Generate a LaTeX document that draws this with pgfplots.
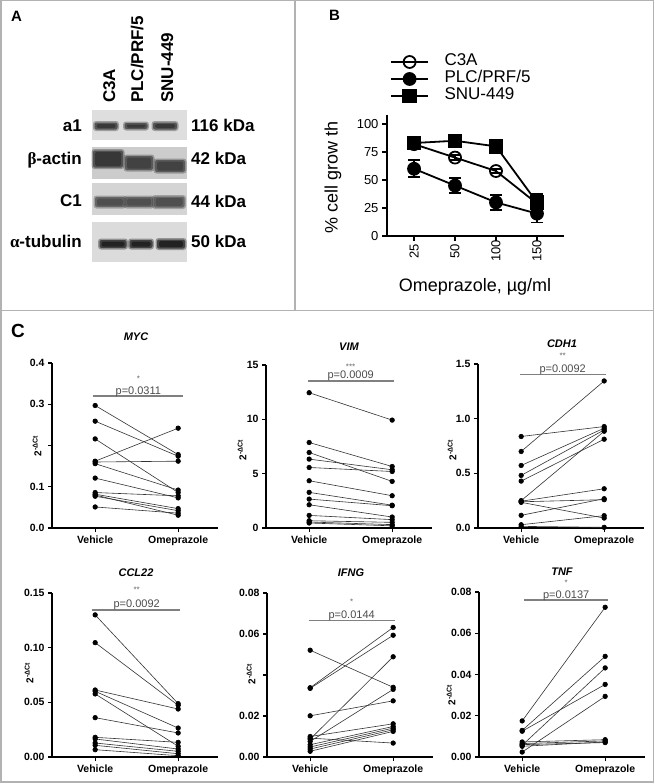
\documentclass[border=0pt]{standalone}
\usepackage{pgfplots}
\pgfplotsset{compat=1.18}
\usepackage{fontspec}
\setmainfont{Liberation Sans}
\newfontfamily\greek{Liberation Serif}
\newcommand\fs[1]{\fontsize{#1}{#1}\selectfont}
\newcommand\band[5]{%
 \fill[#5, opacity=0.35, rounded corners=3pt] ({#1-#3/2-1.5},{-#2-#4/2-1.5}) rectangle ({#1+#3/2+1.5},{-#2+#4/2+1.5});
 \fill[#5, opacity=0.6, rounded corners=2pt] ({#1-#3/2},{-#2-#4/2}) rectangle ({#1+#3/2},{-#2+#4/2});
 \fill[#5, opacity=0.6, rounded corners=1.5pt] ({#1-#3/2+2},{-#2-#4/2+1.5}) rectangle ({#1+#3/2-2},{-#2+#4/2-1.5});
}
\newcommand\pr[2]{\addplot[black!80, line width=0.6pt, mark=*, mark size=2.3pt, mark options={fill=black, draw=black}] coordinates {(0,#1) (1,#2)};}
\pgfplotsset{
  cax/.style={
    anchor=south west, scale only axis, clip=false, width=166pt,
    axis lines=left, axis line style={line width=1.3pt,-},
    xmin=-0.52, xmax=1.48, ymin=0,
    xtick={0,1}, xticklabels={Vehicle,Omeprazole},
    tick align=outside, major tick length=4pt, tick style={line width=1.3pt,black},
    ticklabel style={font=\fs{10.5}\bfseries},
    scaled y ticks=false,
    /pgf/number format/assume math mode=true,
  },
}
\tikzset{
  pline/.style={black!50, line width=1.3pt},
  ptext/.style={font=\fs{11}, text=black!70, anchor=base, inner sep=0pt, yshift=2pt},
  pstar/.style={font=\fs{8}, text=black!60, inner sep=0pt},
}
\begin{document}
\begin{tikzpicture}[x=1pt,y=1pt]
\useasboundingbox (0,0) rectangle (654,-784);
% frames
\draw[black!30, line width=1.5pt] (0.75,-0.75) rectangle (653.25,-782);
\draw[black!30, line width=1.5pt] (295,-0.75) -- (295,-310.5);
\draw[black!30, line width=1.5pt] (0.75,-310.5) -- (653.25,-310.5);

% ---------------- Panel A ----------------
\node[anchor=base west, inner sep=0pt, font=\fs{15}\bfseries] at (11,-22) {A};
\node[rotate=90, anchor=base west, inner sep=0pt, font=\fs{17}\bfseries] at (115,-103) {C3A};
\node[rotate=90, anchor=base west, inner sep=0pt, font=\fs{17}\bfseries] at (143,-103) {PLC/PRF/5};
\node[rotate=90, anchor=base west, inner sep=0pt, font=\fs{17}\bfseries] at (173,-103) {SNU-449};
\fill[black!13] (92,-110) rectangle (187,-140);
\fill[black!20] (92,-147) rectangle (187,-179);
\fill[black!17] (92,-183) rectangle (187,-215);
\fill[black!14] (92,-222) rectangle (187,-262);
\band{106}{126}{23}{7}{black!85}
\band{136}{126}{23}{6}{black!85}
\band{165}{126}{24}{7}{black!85}
\band{108}{159}{30}{17}{black!85}
\band{139}{163}{28}{14}{black!80}
\band{170}{166}{30}{12}{black!80}
\band{110}{202}{30}{10}{black!75}
\band{139}{202}{28}{10}{black!75}
\band{169}{202}{31}{11}{black!75}
\band{113}{244}{27}{8}{black!95}
\band{141}{244}{23}{8}{black!95}
\band{171}{244}{28}{9}{black!95}
\node[anchor=base east, inner sep=0pt, font=\fs{17}\bfseries] at (82,-131.5) {a1};
\node[anchor=base east, inner sep=0pt, font=\fs{17}\bfseries] at (82,-164) {{\greek β}-actin};
\node[anchor=base east, inner sep=0pt, font=\fs{17}\bfseries] at (82,-206) {C1};
\node[anchor=base east, inner sep=0pt, font=\fs{17}\bfseries] at (82,-247) {{\greek α}-tubulin};
\node[anchor=base west, inner sep=0pt, font=\fs{17}\bfseries] at (191,-131.5) {116 kDa};
\node[anchor=base west, inner sep=0pt, font=\fs{17}\bfseries] at (191,-164) {42 kDa};
\node[anchor=base west, inner sep=0pt, font=\fs{17}\bfseries] at (191,-207) {44 kDa};
\node[anchor=base west, inner sep=0pt, font=\fs{17}\bfseries] at (191,-247) {50 kDa};

% ---------------- Panel B ----------------
\node[anchor=base west, inner sep=0pt, font=\fs{15}\bfseries] at (329,-21) {B};
\begin{axis}[at={(387pt,-236pt)}, anchor=south west, scale only axis,
  width=177pt, height=121pt, clip=false,
  axis lines=left, axis line style={line width=1.6pt,-},
  xmin=-0.66, xmax=3.66, ymin=0, ymax=108,
  xtick={0,1,2,3}, xticklabels={25,50,100,150},
  ytick={0,25,50,75,100}, yticklabels={0,25,50,75,100},
  tick align=outside, major tick length=5pt, tick style={line width=1.6pt,black},
  ticklabel style={font=\fs{13}},
  /pgf/number format/assume math mode=true,
  xticklabel style={rotate=90, anchor=center, xshift=-10pt},
  ylabel={\% cell grow th}, xlabel={Omeprazole, µg/ml},
  every axis y label/.style={at={(rel axis cs:-0.305,0.48)}, rotate=90, anchor=center, font=\fs{18}},
  every axis x label/.style={at={(rel axis cs:0.497,-0.42)}, anchor=center, font=\fs{18}},
  legend style={draw=none, fill=none, at={(rel axis cs:0.017,1.51)}, anchor=north west,
    font=\fs{17}, row sep=0pt, inner sep=0pt,
    nodes={inner sep=1.5pt, text height=11pt, text depth=3pt},
    /tikz/every odd column/.append style={column sep=14pt}},
  legend cell align=left,
  legend image code/.code={\draw[#1, mark repeat=2, mark phase=2] plot coordinates {(0pt,0pt) (18.5pt,0pt) (37pt,0pt)};},
  every axis plot/.append style={black, line width=1.8pt},
  error bars/y dir=both, error bars/y explicit,
  error bars/error bar style={line width=1.8pt},
  error bars/error mark options={rotate=90, mark size=6pt, line width=1.8pt},
]
\addplot[mark=o, mark size=6pt, mark options={fill=white, line width=1.8pt}] coordinates {(0,82) +- (0,2) (1,70) +- (0,2) (2,58) +- (0,2) (3,29) +- (0,3)};
\addlegendentry{C3A}
\addplot[mark=*, mark size=6pt] coordinates {(0,60) +- (0,7.5) (1,45) +- (0,6.5) (2,30) +- (0,6.5) (3,20) +- (0,8)};
\addlegendentry{PLC/PRF/5}
\addplot[mark=square*, mark size=6.3pt] coordinates {(0,83) +- (0,5.5) (1,85) +- (0,4) (2,80) +- (0,3) (3,30) +- (0,7.5)};
\addlegendentry{SNU-449}
\end{axis}

% ---------------- Panel C ----------------
\node[anchor=base west, inner sep=0pt, font=\fs{19}\bfseries] at (11,-337) {C};

% MYC
\begin{axis}[cax, at={(52pt,-528pt)}, height=165pt, ymax=0.4,
  ytick={0,0.1,0.2,0.3,0.4}, yticklabels={0.0,0.1,,0.3,0.4}]
\pr{0.297}{0.178}
\pr{0.259}{0.174}
\pr{0.216}{0.086}
\pr{0.162}{0.242}
\pr{0.160}{0.162}
\pr{0.156}{0.092}
\pr{0.121}{0.073}
\pr{0.086}{0.078}
\pr{0.082}{0.047}
\pr{0.077}{0.042}
\pr{0.051}{0.036}
\pr{0.080}{0.031}
\draw[pline] (axis cs:-0.03,0.32) -- (axis cs:1.06,0.32);
\node[ptext] at (axis cs:0.52,0.32) {p=0.0311};
\node[pstar, yshift=17pt] at (axis cs:0.52,0.32) {*};
\end{axis}
\node[font=\fs{11}\bfseries\itshape] at (136,-337) {MYC};
\node[rotate=90, font=\fs{10}\bfseries] at (37,-446) {2\textsuperscript{-ΔCt}};

% VIM
\begin{axis}[cax, at={(266pt,-528pt)}, height=163pt, ymax=15,
  ytick={0,5,10,15}, yticklabels={0,5,10,15}]
\pr{12.45}{9.93}
\pr{7.87}{5.66}
\pr{6.95}{4.29}
\pr{6.34}{5.36}
\pr{5.57}{5.20}
\pr{4.35}{2.97}
\pr{3.28}{2.10}
\pr{2.66}{2.05}
\pr{2.14}{1.01}
\pr{1.16}{0.77}
\pr{0.67}{0.52}
\pr{0.55}{0.31}
\pr{0.46}{0.20}
\draw[pline] (axis cs:-0.01,13.53) -- (axis cs:1.02,13.53);
\node[ptext] at (axis cs:0.5,13.53) {p=0.0009};
\node[pstar, yshift=14pt] at (axis cs:0.5,13.53) {***};
\end{axis}
\node[font=\fs{11}\bfseries\itshape] at (349,-347) {VIM};
\node[rotate=90, font=\fs{10}\bfseries] at (242,-450) {2\textsuperscript{-ΔCt}};

% CDH1
\begin{axis}[cax, at={(478pt,-528pt)}, height=164pt, ymax=1.5,
  ytick={0,0.5,1,1.5}, yticklabels={0.0,0.5,1.0,1.5}]
\pr{0.837}{0.928}
\pr{0.700}{1.345}
\pr{0.572}{0.913}
\pr{0.481}{0.897}
\pr{0.429}{0.812}
\pr{0.250}{0.885}
\pr{0.245}{0.359}
\pr{0.240}{0.259}
\pr{0.235}{0.091}
\pr{0.116}{0.268}
\pr{0.030}{0.113}
\pr{0.015}{0.006}
\draw[pline] (axis cs:-0.01,1.406) -- (axis cs:1.02,1.406);
\node[ptext] at (axis cs:0.5,1.406) {p=0.0092};
\node[pstar, yshift=19pt] at (axis cs:0.5,1.406) {**};
\end{axis}
\node[font=\fs{11}\bfseries\itshape] at (562,-344) {CDH1};
\node[rotate=90, font=\fs{10}\bfseries] at (452,-450) {2\textsuperscript{-ΔCt}};

% CCL22
\begin{axis}[cax, at={(52pt,-757pt)}, height=164pt, ymax=0.15,
  ytick={0,0.05,0.1,0.15}, yticklabels={0.00,0.05,0.10,0.15}]
\pr{0.130}{0.0488}
\pr{0.1046}{0.0473}
\pr{0.0613}{0.0439}
\pr{0.0601}{0.0265}
\pr{0.0577}{0.0098}
\pr{0.036}{0.022}
\pr{0.018}{0.0134}
\pr{0.0165}{0.0073}
\pr{0.0128}{0.0052}
\pr{0.0107}{0.003}
\pr{0.0067}{0.0012}
\draw[pline] (axis cs:-0.04,0.1345) -- (axis cs:1.02,0.1345);
\node[ptext] at (axis cs:0.5,0.1345) {p=0.0092};
\node[pstar, yshift=20pt] at (axis cs:0.5,0.1345) {**};
\end{axis}
\node[font=\fs{11}\bfseries\itshape] at (136,-573) {CCL22};
\node[rotate=90, font=\fs{10}\bfseries] at (29,-673) {2\textsuperscript{-ΔCt}};

% IFNG
\begin{axis}[cax, at={(267pt,-757pt)}, height=164pt, ymax=0.08,
  ytick={0,0.02,0.04,0.06,0.08}, yticklabels={0.00,0.02,,0.06,0.08}]
\pr{0.0521}{0.034}
\pr{0.0338}{0.0632}
\pr{0.0335}{0.0594}
\pr{0.0201}{0.0274}
\pr{0.0100}{0.0162}
\pr{0.0087}{0.0489}
\pr{0.0076}{0.033}
\pr{0.0060}{0.0149}
\pr{0.0049}{0.0141}
\pr{0.0039}{0.0133}
\pr{0.0028}{0.0125}
\pr{0.0092}{0.0068}
\draw[pline] (axis cs:-0.02,0.0665) -- (axis cs:1.02,0.0665);
\node[ptext] at (axis cs:0.5,0.0665) {p=0.0144};
\node[pstar, yshift=19pt] at (axis cs:0.5,0.0665) {*};
\end{axis}
\node[font=\fs{11}\bfseries\itshape] at (351,-573) {IFNG};
\node[rotate=90, font=\fs{10}\bfseries] at (251,-674) {2\textsuperscript{-ΔCt}};

% TNF
\begin{axis}[cax, at={(479pt,-757pt)}, height=165pt, ymax=0.08,
  ytick={0,0.02,0.04,0.06,0.08}, yticklabels={0.00,0.02,0.04,0.06,0.08}]
\pr{0.0175}{0.0726}
\pr{0.0129}{0.0488}
\pr{0.0125}{0.0352}
\pr{0.0057}{0.0432}
\pr{0.0024}{0.0294}
\pr{0.0073}{0.0084}
\pr{0.0065}{0.0078}
\pr{0.0052}{0.0073}
\pr{0.0060}{0.0070}
\draw[pline] (axis cs:0.02,0.0761) -- (axis cs:1.04,0.0761);
\node[ptext] at (axis cs:0.53,0.0761) {p=0.0137};
\node[pstar, yshift=17pt] at (axis cs:0.53,0.0761) {*};
\end{axis}
\node[font=\fs{11}\bfseries\itshape] at (562,-572) {TNF};
\node[rotate=90, font=\fs{10}\bfseries] at (451,-695) {2\textsuperscript{-ΔCt}};
\end{tikzpicture}
\end{document}
